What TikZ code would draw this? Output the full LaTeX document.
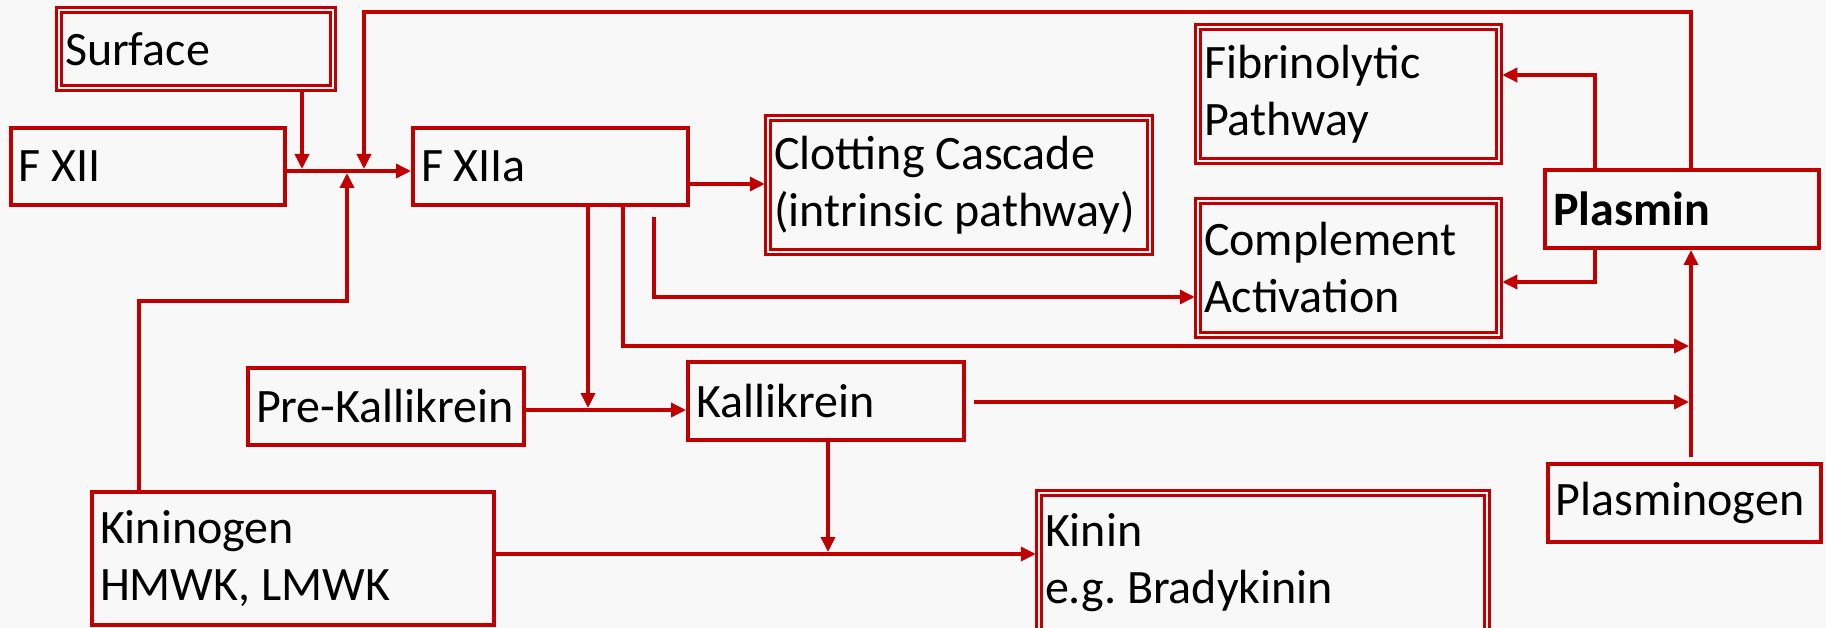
\documentclass[tikz,border=0pt]{standalone}
\usepackage{fontspec}
\setmainfont{Carlito}
\usetikzlibrary{arrows.meta}
\definecolor{dred}{HTML}{C00000}
\definecolor{bgc}{HTML}{F8F8F8}
\frenchspacing
\begin{document}
\begin{tikzpicture}[x=1pt,y=-1pt,
  every node/.style={font=\fontsize{48}{57}\selectfont\frenchspacing, text=black},
  sbox/.style={draw=dred, line width=4pt, align=flush left, inner xsep=8pt, inner ysep=0pt},
  dbox/.style={draw=dred, line width=2.5pt, double=bgc, double distance=2.5pt, align=flush left, inner xsep=6pt, inner ysep=0pt},
  conn/.style={draw=dred, line width=3.5pt},
  arr/.style={conn, -{Triangle[length=15pt,width=14pt]}},
]
\path[use as bounding box, fill=bgc] (0,0) rectangle (1826,628);

% boxes
\node[dbox, minimum width=274pt, minimum height=78pt, text width=262pt] (surface) at (196,49) {Surface};
\node[sbox, minimum width=274pt, minimum height=77pt, text width=258pt] (fxii) at (148,166.5) {F XII};
\node[sbox, minimum width=275pt, minimum height=77pt, text width=259pt] (fxiia) at (550.5,166.5) {F XIIa};
\node[dbox, minimum width=382pt, minimum height=134pt, text width=370pt] (clot) at (959,185) {Clotting Cascade\\(intrinsic pathway)};
\node[dbox, minimum width=301pt, minimum height=134pt, text width=289pt] (fib) at (1348.5,94) {Fibrinolytic\\Pathway};
\node[dbox, minimum width=301pt, minimum height=134pt, text width=289pt] (comp) at (1348.5,268) {Complement\\Activation};
\node[sbox, minimum width=274pt, minimum height=78pt, text width=258pt] (plasmin) at (1682,209) {\bfseries Plasmin};
\node[sbox, minimum width=276pt, minimum height=77pt, text width=260pt] (prek) at (386,406.5) {Pre-Kallikrein};
\node[sbox, minimum width=276pt, minimum height=78pt, text width=260pt] (kall) at (826,401) {Kallikrein};
\node[sbox, minimum width=273pt, minimum height=78pt, text width=257pt] (plgn) at (1684,502.5) {Plasminogen};
\node[sbox, minimum width=402pt, minimum height=133pt, text width=386pt] (kgen) at (293,558.5) {Kininogen\\HMWK, LMWK};
\node[dbox, minimum width=448pt, minimum height=140pt, text width=436pt] (kinin) at (1263,563) {Kinin\\e.g. Bradykinin};

% coordinates
\coordinate (a1) at (302,169);
\coordinate (h1) at (0,171);
\coordinate (tr) at (1691,12);
\coordinate (tl) at (364,12);
\coordinate (te) at (364,169);
\coordinate (k1) at (139,301);
\coordinate (k2) at (347,301);
\coordinate (k3) at (347,173);
\coordinate (c1) at (0,184);
\coordinate (v1) at (588,408);
\coordinate (v2a) at (623,346);
\coordinate (v2b) at (1689,346);
\coordinate (v3a) at (654,217);
\coordinate (v3b) at (654,297);
\coordinate (p1) at (0,410);
\coordinate (q1) at (974,402);
\coordinate (q2) at (1689,402);
\coordinate (pv) at (1691,457);
\coordinate (f1) at (1595,75);
\coordinate (f2) at (1595,282);
\coordinate (d1) at (828,552);
\coordinate (d2) at (0,554);

% connectors
\draw[arr] (surface.south -| a1) -- (a1);
\draw[arr] (fxii.east |- h1) -- (fxiia.west |- h1);
\draw[arr] (plasmin.north -| tr) -- (tr) -- (tl) -- (te);
\draw[arr] (kgen.north -| k1) -- (k1) -- (k2) -- (k3);
\draw[arr, shorten >=2pt] (fxiia.east |- c1) -- (clot.west |- c1);
\draw[arr] (fxiia.south -| v1) -- (v1);
\draw[arr] (fxiia.south -| v2a) -- (v2a) -- (v2b);
\draw[arr, shorten >=2pt] (v3a) -- (v3b) -- (comp.west |- v3b);
\draw[arr] (prek.east |- p1) -- (kall.west |- p1);
\draw[arr] (q1) -- (q2);
\draw[arr] (pv) -- (plasmin.south -| pv);
\draw[arr, shorten >=2pt] (plasmin.north -| f1) -- (f1) -- (fib.east |- f1);
\draw[arr, shorten >=2pt] (plasmin.south -| f2) -- (f2) -- (comp.east |- f2);
\draw[arr] (kall.south -| d1) -- (d1);
\draw[arr, shorten >=2pt] (kgen.east |- d2) -- (kinin.west |- d2);
\end{tikzpicture}
\end{document}
